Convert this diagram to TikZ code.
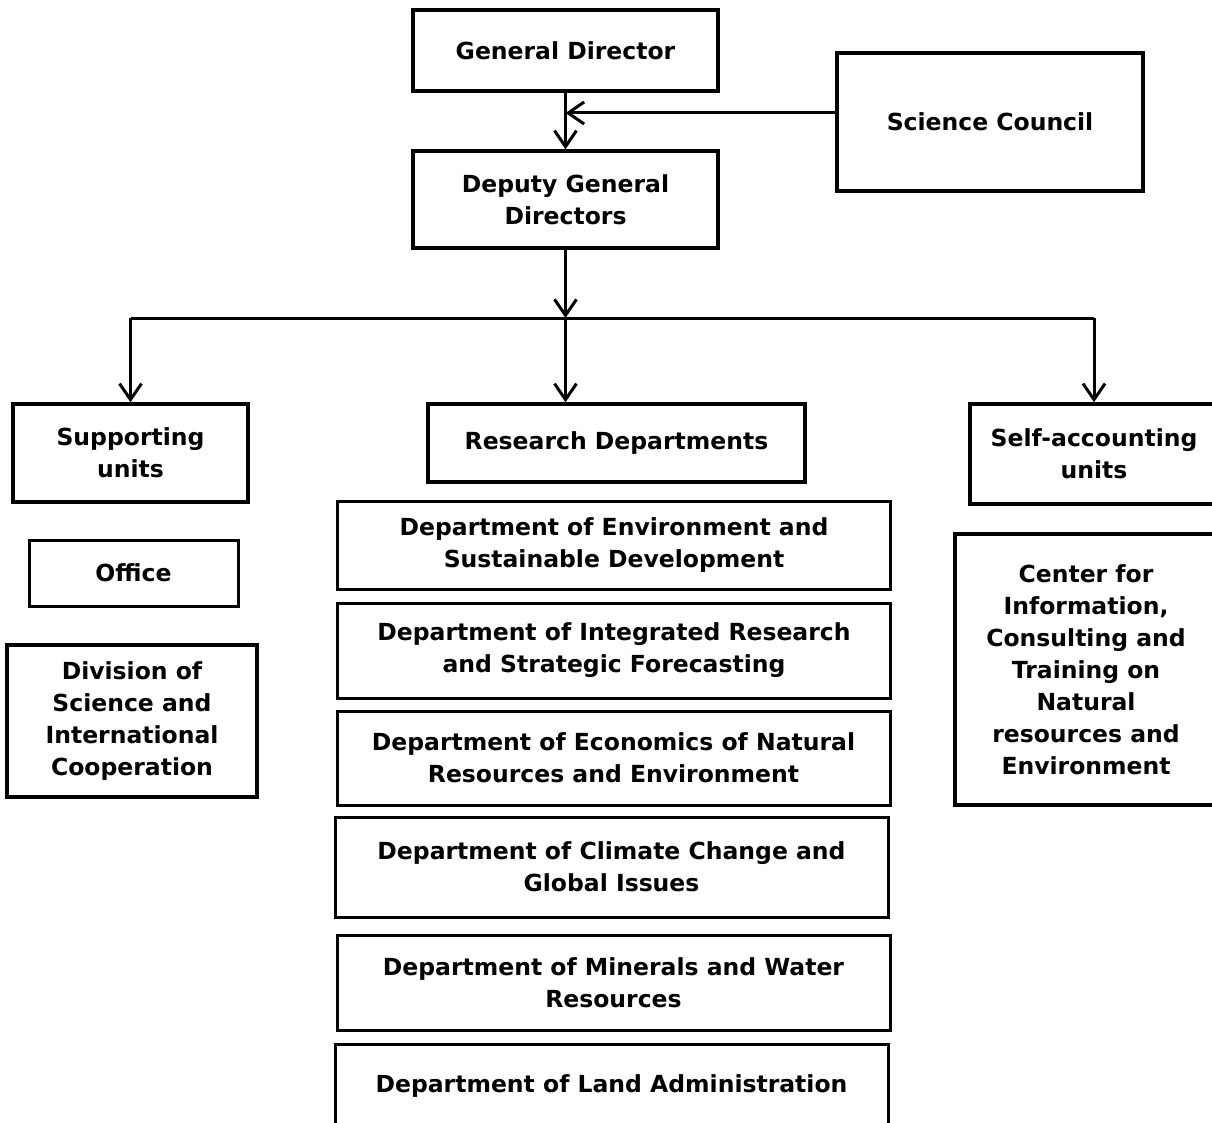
\documentclass[tikz,border=0pt]{standalone}
\usepackage{fontspec}
\setmainfont{DejaVu Sans}
\usetikzlibrary{arrows.meta}

\begin{document}
\begin{tikzpicture}[x=1pt, y=-1pt,
  box/.style={draw, line width=3.5pt, inner sep=0pt, align=center,
    font=\bfseries\fontsize{23.5}{32}\selectfont},
  dept/.style={box, line width=3pt, minimum width=553pt},
  link/.style={line width=3pt, -{Straight Barb[length=16pt, width=22pt, line width=3pt]}}]
  \useasboundingbox (0,0) rectangle (1212,1123);
  \fill[white] (0,0) rectangle (1212,1123);
  \clip (0,0) rectangle (1212,1123);

  % Top management
  \node[box, minimum width=305pt, minimum height=81pt] (gd) at (565.5,50.5) {General Director};
  \node[box, minimum width=306pt, minimum height=138pt] (sc) at (990,122) {Science Council};
  \node[box, minimum width=305pt, minimum height=97pt] (dgd) at (565.5,199.5) {Deputy General\\Directors};

  % Three branches
  \node[box, minimum width=235pt, minimum height=98pt] (sup) at (130.5,453) {Supporting\\units};
  \node[box, minimum width=377pt, minimum height=78pt] (rd) at (616.5,443) {Research Departments};
  \node[box, minimum width=248pt, minimum height=100pt] (sa) at (1094,454) {Self-accounting\\units};

  % Supporting units
  \node[box, line width=3pt, minimum width=209pt, minimum height=66pt] (off) at (133.5,573) {Office};
  \node[box, minimum width=250pt, minimum height=152pt] (div) at (132,721) {Division of\\Science and\\International\\Cooperation};

  % Research departments
  \node[dept, minimum height=88pt] (d1) at (614,545) {Department of Environment and\\Sustainable Development};
  \node[dept, minimum height=95pt] (d2) at (614,650.5) {Department of Integrated Research\\and Strategic Forecasting};
  \node[dept, minimum height=94pt] (d3) at (613.5,758) {Department of Economics of Natural\\Resources and Environment};
  \node[dept, minimum height=100pt] (d4) at (611.5,867) {Department of Climate Change and\\Global Issues};
  \node[dept, minimum height=95pt] (d5) at (613.5,982.5) {Department of Minerals and Water\\Resources};
  \node[dept, minimum height=84pt] (d6) at (611.5,1086) {Department of Land Administration};

  % Self-accounting units
  \node[box, minimum width=262pt, minimum height=271pt] (cf) at (1086,669.5) {Center for\\Information,\\Consulting and\\Training on\\Natural\\resources and\\Environment};

  % Connectors
  \coordinate (merge) at (gd.south |- 0,113);
  \coordinate (bus) at (dgd.south |- 0,318);
  \draw[link] (gd) -- (dgd);
  \draw[link] (sc.west |- merge) -- (merge);
  \draw[link] (dgd) -- (bus);
  \draw[line width=3pt] (sup.north |- bus) -- (sa.north |- bus);
  \draw[link] (sup.north |- bus) -- (sup.north);
  \draw[link] (bus) -- (bus |- rd.north);
  \draw[link] (sa.north |- bus) -- (sa.north);
\end{tikzpicture}
\end{document}
